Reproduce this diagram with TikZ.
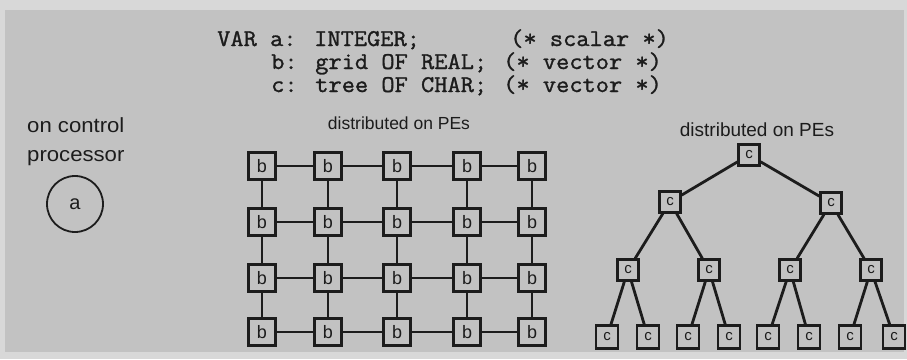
\documentclass[tikz,border=0pt]{standalone}
\usepackage{fontspec}
\setmainfont{Liberation Sans}
\newfontfamily\codefont{Latin Modern Mono}[FakeBold=1.2]
\definecolor{outerbg}{HTML}{D8D8D8}
\definecolor{panelbg}{HTML}{C2C2C2}
\definecolor{ink}{HTML}{1C1C1C}
\begin{document}
\begin{tikzpicture}[x=1pt,y=-1pt,
  code/.style={anchor=base west, inner sep=0, text=ink, font=\codefont\fontsize{24}{28}\selectfont},
  lbl/.style={anchor=base west, inner sep=0, text=ink, font=\fontsize{20.5}{24}\selectfont},
  dist/.style={anchor=base, inner sep=0, text=ink},
  gbox/.style={draw=ink, line width=2.4pt, minimum size=27pt, inner sep=0, text=ink, font=\fontsize{18}{20}\selectfont},
  tbox/.style={draw=ink, line width=2.3pt, minimum size=21pt, inner sep=0, text=ink, font=\fontsize{15}{17}\selectfont},
  lbox/.style={tbox, minimum width=22pt, minimum height=23pt},
  gline/.style={draw=ink, line width=2.2pt},
  tline/.style={draw=ink, line width=2.8pt}]
\useasboundingbox (0,0) rectangle (907,359);
\fill[outerbg] (0,0) rectangle (907,359);
\fill[panelbg] (5,10) rectangle (904,352);
% code
\node[code] (c1) at (217,46) {\scalebox{1.07}[1]{VAR a: INTEGER;}};
\node[code] (c1r) at (510,46) {\scalebox{1.07}[1]{(* scalar *)}};
\node[code] (c2) at (271,69) {\scalebox{1.07}[1]{b: grid OF REAL;}};
\node[code] (c2r) at (503,69) {\scalebox{1.07}[1]{(* vector *)}};
\node[code] (c3) at (271,92) {\scalebox{1.07}[1]{c: tree OF CHAR;}};
\node[code] (c3r) at (503,92) {\scalebox{1.07}[1]{(* vector *)}};
% control processor
\node[lbl] (p1) at (27,132) {\scalebox{1.08}[1]{on control}};
\node[lbl] (p2) at (27,161) {\scalebox{1.08}[1]{processor}};
\node[draw=ink, line width=1.8pt, circle, minimum size=56pt, inner sep=0, text=ink,
      font=\fontsize{20}{22}\selectfont] (a) at (75,204) {a};
% grid
\node[dist, font=\fontsize{17.5}{20}\selectfont] (d1) at (399,129) {distributed on PEs};
\foreach \x [count=\i] in {262,328,397,467,532}
  \foreach \y [count=\j] in {166,222,278,332}
    \node[gbox] (g\i-\j) at (\x,\y) {b};
\foreach \i/\k in {1/2,2/3,3/4,4/5} {
  \foreach \j in {1,2,3,4} {
    \draw[gline] (g\i-\j) -- (g\k-\j);
  }
}
\foreach \i in {1,2,3,4,5} {
  \foreach \j/\k in {1/2,2/3,3/4} {
    \draw[gline] (g\i-\j) -- (g\i-\k);
  }
}
% tree
\node[dist, font=\fontsize{19}{22}\selectfont] (d2) at (757,136) {distributed on PEs};
\node[tbox] (t1) at (749,155) {c};
\node[tbox] (t2) at (670,202) {c};
\node[tbox] (t3) at (831,203) {c};
\node[tbox] (t4) at (628,270) {c};
\node[tbox] (t5) at (709,270) {c};
\node[tbox] (t6) at (790,270) {c};
\node[tbox] (t7) at (871,270) {c};
\foreach \x [count=\i from 8] in {607,648,688,729,768,809,850,894}
  \node[lbox] (t\i) at (\x,337) {c};
\draw[tline] (t1) -- (t2);
\draw[tline] (t1) -- (t3);
\draw[tline] (t2) -- (t4);
\draw[tline] (t2) -- (t5);
\draw[tline] (t3) -- (t6);
\draw[tline] (t3) -- (t7);
\draw[tline] (t4) -- (t8);
\draw[tline] (t4) -- (t9);
\draw[tline] (t5) -- (t10);
\draw[tline] (t5) -- (t11);
\draw[tline] (t6) -- (t12);
\draw[tline] (t6) -- (t13);
\draw[tline] (t7) -- (t14);
\draw[tline] (t7) -- (t15);
\end{tikzpicture}
\end{document}
